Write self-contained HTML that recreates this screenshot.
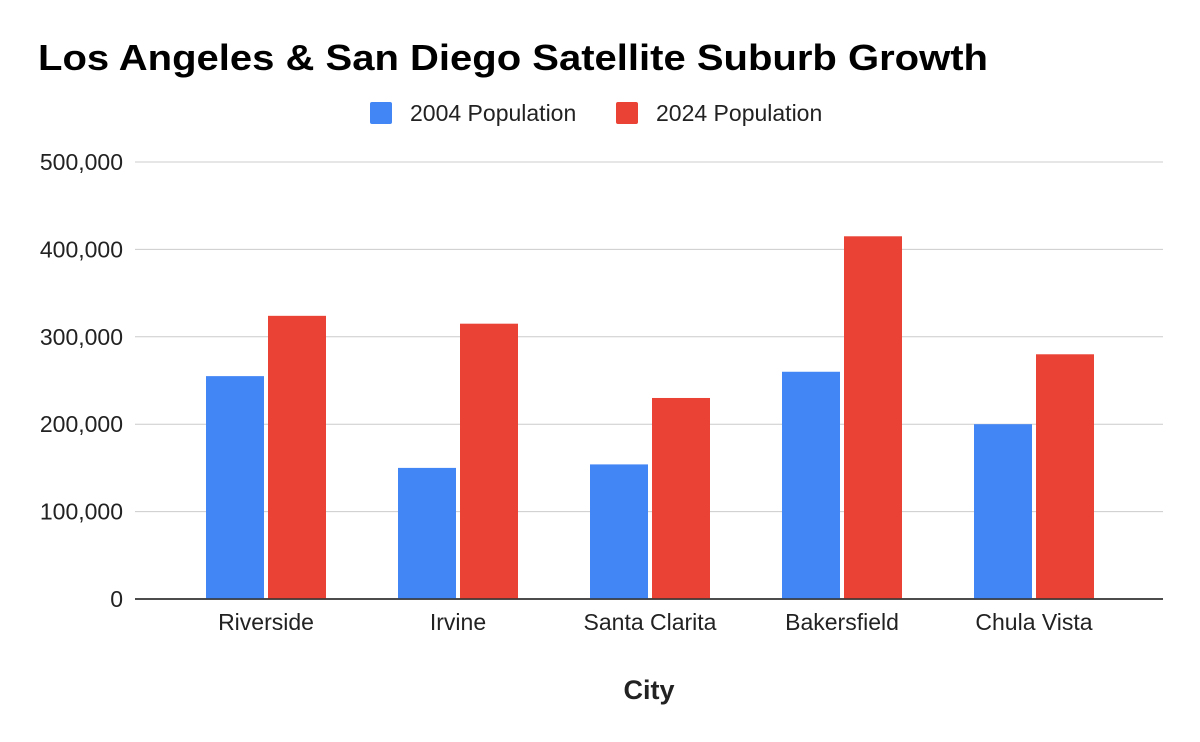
<!DOCTYPE html>
<html><head><meta charset="utf-8">
<style>
body{margin:0;background:#fff;font-family:"Liberation Sans",Arial,sans-serif;}
svg{display:block}
</style></head>
<body>
<svg id="chart" width="1200" height="742">
<text x="38" y="70" font-size="36" font-weight="bold" fill="#000" textLength="950" lengthAdjust="spacingAndGlyphs">Los Angeles &amp; San Diego Satellite Suburb Growth</text>
<g>
<g>
<rect x="370" y="102" width="22" height="22" rx="2" fill="#4285f4"/>
<text x="410" y="121" font-size="23" fill="#222">2004 Population</text></g>
<g>
<rect x="616" y="102" width="22" height="22" rx="2" fill="#ea4335"/>
<text x="656" y="121" font-size="23" fill="#222">2024 Population</text></g>
</g>
<g id="grid"></g><g id="bars"></g><g id="xlabels"></g>
<text x="649" y="699" font-size="27" font-weight="bold" text-anchor="middle" fill="#222">City</text>
</svg>
<script>
const categories=["Riverside","Irvine","Santa Clarita","Bakersfield","Chula Vista"];
const pop2004=[255000,150000,154000,260000,200000];
const pop2024=[324000,315000,230000,415000,280000];
const yTicks=[0,100000,200000,300000,400000,500000];
const NS="http://www.w3.org/2000/svg";
const y0=599,yTop=162,maxV=500000;
const y=v=>y0-(v/maxV)*(y0-yTop);
const bandStart=170,band=192;
const xc=i=>bandStart+band*i+band/2;
function mk(tag,attrs,parent){const e=document.createElementNS(NS,tag);for(const k in attrs)e.setAttribute(k,attrs[k]);parent.appendChild(e);return e;}
const grid=document.getElementById('grid'),bars=document.getElementById('bars'),xl=document.getElementById('xlabels');
yTicks.forEach(t=>{
 const l=mk('line',{x1:135,x2:1163,y1:y(t),y2:y(t),stroke:t===0?'#333':'#ccc','stroke-width':t===0?1.5:1},grid);
 
 
 const tx=mk('text',{x:123,y:y(t)+8,'font-size':23,'text-anchor':'end',fill:'#222'},grid);
 tx.textContent=t.toLocaleString('en-US');
 
 
});
const bw=58,gap=4;
categories.forEach((c,i)=>{
 const b1=mk('rect',{x:xc(i)-gap/2-bw,y:y(pop2004[i]),width:bw,height:y0-y(pop2004[i]),fill:'#4285f4'},bars);
 
 
 const b2=mk('rect',{x:xc(i)+gap/2,y:y(pop2024[i]),width:bw,height:y0-y(pop2024[i]),fill:'#ea4335'},bars);
 
 
 const t=mk('text',{x:xc(i),y:630,'font-size':23,'text-anchor':'middle',fill:'#222'},xl);
 t.textContent=c;
 
 
});
const base=mk('line',{x1:135,x2:1163,y1:y0,y2:y0,stroke:'#333','stroke-width':1.5},bars);


</script>
</body></html>
